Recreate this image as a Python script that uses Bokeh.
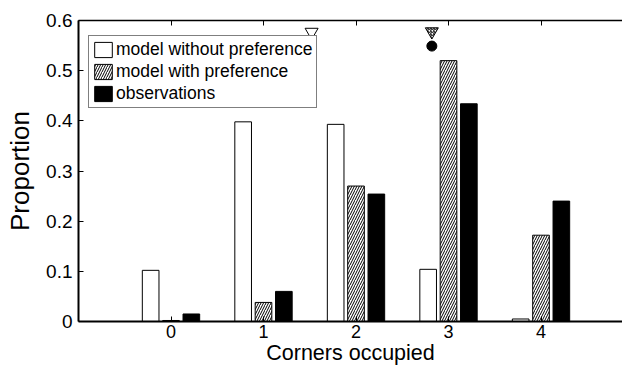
from bokeh.plotting import figure
from bokeh.models import (Range1d, LinearAxis, FixedTicker, Legend, LegendItem,
                          ColumnDataSource)
from bokeh.transform import dodge
from bokeh.embed import file_html
from bokeh.resources import INLINE

# ---- data ----
corners = [0, 1, 2, 3, 4]
tick_labels = ["0", "1", "2", "3", "4"]
model_without_preference = [0.102, 0.398, 0.393, 0.104, 0.005]
model_with_preference = [0.002, 0.038, 0.270, 0.520, 0.172]
observations = [0.015, 0.060, 0.254, 0.434, 0.240]

# mean markers above the bars
mean_without_x = [1.52]
mean_without_y = [0.577]
mean_with_x = [2.82]
mean_with_y = [0.578]
mean_obs_x = [2.82]
mean_obs_y = [0.549]

y_ticks = [0, 0.1, 0.2, 0.3, 0.4, 0.5, 0.6]
y_tick_labels = ["0", "0.1", "0.2", "0.3", "0.4", "0.5", "0.6"]

FONT = "Liberation Sans"

src = ColumnDataSource(dict(corners=corners,
                            without=model_without_preference,
                            withp=model_with_preference,
                            obs=observations))

p = figure(width=622, height=368, output_backend="svg", toolbar_location=None,
           x_range=Range1d(-1, 4.881), y_range=Range1d(0, 0.6),
           min_border_left=78, min_border_right=0, min_border_top=20,
           min_border_bottom=47)
p.outline_line_color = None
p.xgrid.visible = False
p.ygrid.visible = False
p.background_fill_color = "white"

bw = 0.18
r1 = p.vbar(x=dodge("corners", -0.22, range=p.x_range), top="without", width=bw,
            source=src, fill_color="white", line_color="black", line_width=1)
r2 = p.vbar(x=dodge("corners", 0.0, range=p.x_range), top="withp", width=bw,
            source=src, fill_color="white", line_color="black", line_width=1,
            hatch_pattern="/", hatch_color="black", hatch_scale=5, hatch_weight=1)
r3 = p.vbar(x=dodge("corners", 0.22, range=p.x_range), top="obs", width=bw,
            source=src, fill_color="black", line_color="black", line_width=1)

p.scatter(mean_without_x, mean_without_y, marker="inverted_triangle", size=13,
          fill_color="white", line_color="black", line_width=1)
p.scatter(mean_with_x, mean_with_y, marker="inverted_triangle", size=13,
          fill_color="white", line_color="black", line_width=1,
          hatch_pattern="/", hatch_color="black", hatch_scale=3, hatch_weight=1)
p.scatter(mean_obs_x, mean_obs_y, marker="circle", size=10,
          fill_color="black", line_color="black")

# bottom axis
xa = p.xaxis[0]
xa.ticker = FixedTicker(ticks=corners)
xa.major_label_overrides = {c: t for c, t in zip(corners, tick_labels)}
xa.major_tick_in = 5
xa.major_tick_out = 0
xa.minor_tick_in = 0
xa.minor_tick_out = 0
xa.axis_line_width = 2
xa.axis_line_color = "black"
xa.major_tick_line_color = "black"
xa.major_label_standoff = 3
xa.major_label_text_font = FONT
xa.major_label_text_font_size = "18px"
xa.major_label_text_color = "black"
xa.axis_label = "Corners occupied"
xa.axis_label_text_font = FONT
xa.axis_label_text_font_size = "21.5px"
xa.axis_label_text_font_style = "normal"
xa.axis_label_text_color = "black"
xa.axis_label_standoff = 0

# left axis
ya = p.yaxis[0]
ya.ticker = FixedTicker(ticks=y_ticks)
ya.major_label_overrides = {t: l for t, l in zip(y_ticks, y_tick_labels)}
ya.major_tick_in = 5
ya.major_tick_out = 0
ya.minor_tick_in = 0
ya.minor_tick_out = 0
ya.axis_line_width = 2
ya.axis_line_color = "black"
ya.major_label_standoff = 6
ya.major_label_text_font = FONT
ya.major_label_text_font_size = "19px"
ya.major_label_text_color = "black"
ya.axis_label = "Proportion"
ya.axis_label_text_font = FONT
ya.axis_label_text_font_size = "26px"
ya.axis_label_text_font_style = "normal"
ya.axis_label_text_color = "black"
ya.axis_label_standoff = 8

# top axis (box edge with inward ticks, labels not drawn)
top = LinearAxis(ticker=FixedTicker(ticks=corners),
                 major_tick_in=5, major_tick_out=0, minor_tick_in=0, minor_tick_out=0,
                 axis_line_width=1.5, major_label_standoff=0, axis_line_color="black",
                 major_tick_line_color="black",
                 major_label_text_font_size="8px", major_label_text_color=None)
p.add_layout(top, "above")

legend = Legend(items=[LegendItem(label="model without preference", renderers=[r1]),
                       LegendItem(label="model with preference", renderers=[r2]),
                       LegendItem(label="observations", renderers=[r3])],
                location=(10, 213), glyph_width=22, glyph_height=19, label_height=19,
                label_standoff=2, spacing=1, padding=3, margin=0,
                border_line_color="black", border_line_width=1.5,
                background_fill_color="white", background_fill_alpha=1,
                label_text_font=FONT, label_text_font_size="17.5px",
                label_text_color="black")
p.add_layout(legend)

open("out.html", "w").write(file_html(p, INLINE))
